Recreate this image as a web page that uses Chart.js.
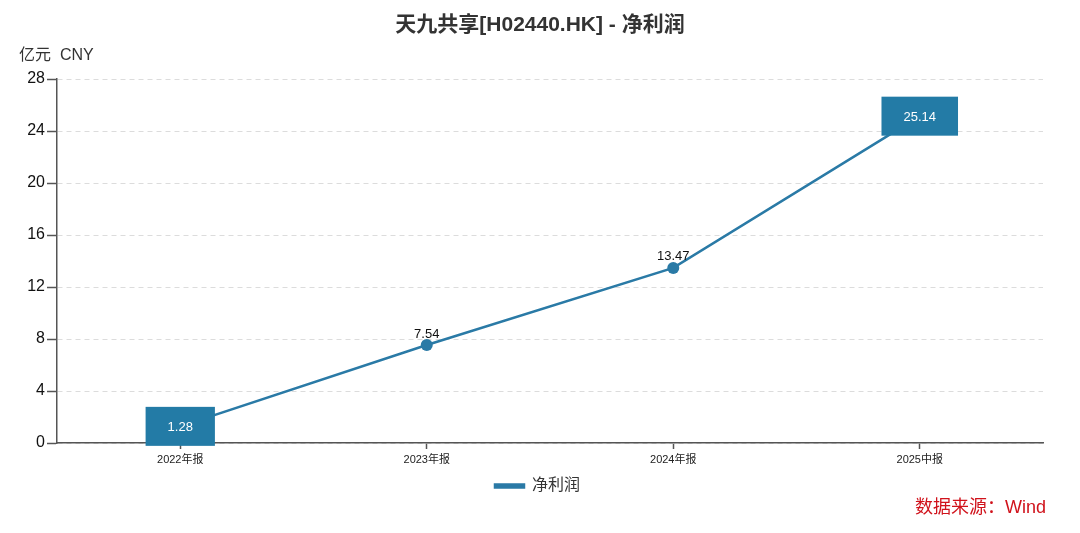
<!DOCTYPE html>
<html>
<head>
<meta charset="utf-8">
<script src="https://cdn.jsdelivr.net/npm/chart.js@4/dist/chart.umd.min.js"></script>
<style>
  html, body { margin: 0; padding: 0; background: #fff; }
  #wrap { width: 1080px; height: 533px; }
</style>
</head>
<body>
<div id="wrap"><canvas id="chart"></canvas></div>
<script>
const FONT = '"Liberation Sans", Arial, "Noto Sans CJK SC", sans-serif';
const LINE = '#2a7aa6';
const BOX = '#237ba6';

const TITLE = '天九共享[H02440.HK] - 净利润';
const UNIT = '亿元  CNY';
const SOURCE = '数据来源：Wind';

const categories = ['2022年报', '2023年报', '2024年报', '2025中报'];
const netProfit = [1.28, 7.54, 13.47, 25.14];
const seriesName = '净利润';
const yMax = 28;
const yStep = 4;

// min and max get a filled box, the others a dot with a label above
const minIdx = netProfit.indexOf(Math.min(...netProfit));
const maxIdx = netProfit.indexOf(Math.max(...netProfit));
const isBoxed = i => i === minIdx || i === maxIdx;

const decorations = {
  id: 'decorations',
  afterLayout(chart) {
    // legend in the reference sits centred under the plot area, not the canvas
    const lg = chart.legend;
    if (lg) { lg.left += 16; lg.right += 16; }
  },
  afterDatasetsDraw(chart) {
    const { ctx } = chart;
    const meta = chart.getDatasetMeta(0);
    ctx.save();
    ctx.font = '13px ' + FONT;
    ctx.textAlign = 'center';
    ctx.textBaseline = 'middle';
    meta.data.forEach((pt, i) => {
      const txt = netProfit[i].toFixed(2);
      if (isBoxed(i)) {
        const w = ctx.measureText(txt).width + 44;
        const h = 39;
        ctx.fillStyle = BOX;
        ctx.fillRect(pt.x - w / 2, pt.y - h / 2, w, h);
        ctx.fillStyle = '#fff';
        ctx.fillText(txt, pt.x, pt.y + 1);
      } else {
        ctx.fillStyle = '#111';
        ctx.fillText(txt, pt.x, pt.y - 11);
      }
    });
    ctx.restore();
  },
  afterDraw(chart) {
    const { ctx } = chart;
    ctx.save();
    ctx.textBaseline = 'middle';
    ctx.font = 'bold 21px ' + FONT;
    ctx.fillStyle = '#333';
    ctx.textAlign = 'center';
    ctx.fillText(TITLE, 540, 25);

    ctx.font = '16px ' + FONT;
    ctx.textAlign = 'left';
    ctx.fillText(UNIT, 19, 56);

    ctx.font = '18px ' + FONT;
    ctx.fillStyle = '#d0121b';
    ctx.textAlign = 'right';
    ctx.fillText(SOURCE, 1046, 508);
    ctx.restore();
  }
};

new Chart(document.getElementById('chart'), {
  type: 'line',
  data: {
    labels: categories,
    datasets: [{
      label: seriesName,
      data: netProfit,
      borderColor: LINE,
      backgroundColor: LINE,
      borderWidth: 2.5,
      pointRadius: ctx => isBoxed(ctx.dataIndex) ? 0 : 6,
      pointBackgroundColor: LINE,
      pointBorderWidth: 0,
      tension: 0,
      fill: false
    }]
  },
  options: {
    responsive: true,
    maintainAspectRatio: false,
    animation: false,
    devicePixelRatio: 1,
    layout: { padding: { left: 0, right: 37, top: 79, bottom: 29 } },
    plugins: {
      title: { display: false },
      tooltip: { enabled: false },
      legend: {
        position: 'bottom',
        labels: {
          boxWidth: 29,
          boxHeight: 3,
          padding: 7,
          color: '#333',
          font: { family: FONT, size: 16 }
        }
      }
    },
    scales: {
      x: {
        offset: true,
        grid: { drawOnChartArea: false, tickLength: 6, tickColor: '#555', tickWidth: 1.5 },
        border: { color: '#555', width: 1.5 },
        ticks: { color: '#222', padding: 4, font: { family: FONT, size: 11 }, maxRotation: 0 },
        afterFit: s => { s.height = 28; }
      },
      y: {
        min: 0,
        max: yMax,
        ticks: { stepSize: yStep, color: '#111', padding: 2, font: { family: FONT, size: 16 } },
        grid: { color: '#dcdcdc', lineWidth: 1, tickLength: 10, tickColor: '#555', tickWidth: 1.5 },
        border: { color: '#555', width: 1.5, dash: [5, 4] },
        afterFit: s => { s.width = 57; }
      }
    }
  },
  plugins: [decorations]
});
</script>
</body>
</html>
